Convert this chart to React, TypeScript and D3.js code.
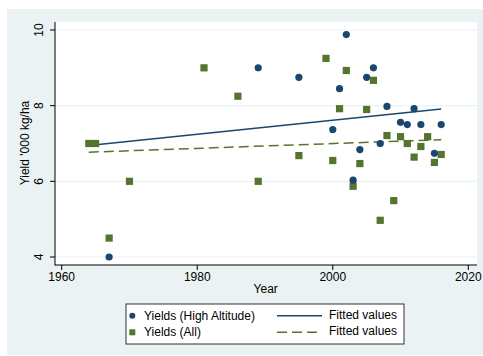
import { useMemo } from 'react'
import * as d3 from 'd3'

// High altitude yields ('000 kg/ha) by year
const highYears = [1967, 1989, 1995, 2000, 2001, 2002, 2003, 2004, 2005, 2006, 2007, 2008, 2010, 2011, 2012, 2013, 2015, 2016]
const highValues = [4.0, 9.0, 8.75, 7.37, 8.45, 9.88, 6.03, 6.84, 8.75, 9.0, 7.0, 7.98, 7.56, 7.5, 7.92, 7.5, 6.74, 7.5]

// All yields
const allYears = [1964, 1965, 1967, 1970, 1981, 1986, 1989, 1995, 1999, 2000, 2001, 2002, 2003, 2004, 2005, 2006, 2007, 2008, 2009, 2010, 2011, 2012, 2013, 2014, 2015, 2016]
const allValues = [7.0, 7.0, 4.5, 6.0, 9.0, 8.25, 6.0, 6.68, 9.25, 6.55, 7.92, 8.93, 5.87, 6.47, 7.9, 8.67, 4.97, 7.21, 5.49, 7.18, 7.0, 6.64, 6.92, 7.18, 6.5, 6.71]

// Fitted line endpoints
const fitYears = [1964, 2016]
const fitHigh = [6.95, 7.91]
const fitAll = [6.77, 7.1]

const xTicks = [1960, 1980, 2000, 2020]
const yTicks = [4, 6, 8, 10]

const NAVY = '#1a476f'
const GREEN = '#55752f'
const BG = '#eaf2f3'
const FONT = 'Liberation Sans, Arial, sans-serif'

export default function App() {
  const width = 483
  const height = 356
  const plot = { left: 55, right: 477, top: 22, bottom: 265 }

  const x = useMemo(() => d3.scaleLinear().domain([1960, 2020]).range([61.7, 468.3]), [])
  const y = useMemo(() => d3.scaleLinear().domain([4, 10]).range([257, 30]), [])

  const line = d3.line<number>()
    .x((_, i) => x(fitYears[i]))
    .y(d => y(d))

  return (
    <svg width={width} height={height} style={{ position: 'absolute', left: 0, top: 0, fontFamily: FONT }}>
      <rect x={0} y={0} width={width} height={height} fill="#fff" />
      <rect x={7} y={9} width={width - 7} height={346} fill={BG} />
      <rect x={plot.left} y={plot.top} width={plot.right - plot.left} height={plot.bottom - plot.top} fill="#fff" />

      {/* grid */}
      {yTicks.map(t => (
        <line key={t} x1={plot.left} x2={plot.right} y1={y(t)} y2={y(t)} stroke={BG} strokeWidth={1.2} />
      ))}

      {/* fitted lines */}
      <path d={line(fitHigh) || ''} fill="none" stroke={NAVY} strokeWidth={1.5} />
      <path d={line(fitAll) || ''} fill="none" stroke={GREEN} strokeWidth={1.5} strokeDasharray="10,5" />

      {/* points */}
      {allYears.map((yr, i) => (
        <rect key={'a' + i} x={x(yr) - 3.6} y={y(allValues[i]) - 3.6} width={7.2} height={7.2} fill={GREEN} />
      ))}
      {highYears.map((yr, i) => (
        <circle key={'h' + i} cx={x(yr)} cy={y(highValues[i])} r={3.6} fill={NAVY} />
      ))}

      {/* axes */}
      <line x1={plot.left} x2={plot.left} y1={plot.top} y2={plot.bottom + 0.5} stroke="#000" strokeWidth={1} />
      <line x1={plot.left} x2={plot.right} y1={plot.bottom} y2={plot.bottom} stroke="#000" strokeWidth={1} />
      {xTicks.map(t => (
        <g key={t}>
          <line x1={x(t)} x2={x(t)} y1={plot.bottom} y2={plot.bottom + 5} stroke="#000" />
          <text x={x(t)} y={plot.bottom + 16} fontSize={12} textAnchor="middle" fill="#000">{t}</text>
        </g>
      ))}
      {yTicks.map(t => (
        <g key={t}>
          <line x1={plot.left - 5} x2={plot.left} y1={y(t)} y2={y(t)} stroke="#000" />
          <text transform={`translate(${plot.left - 12},${y(t)}) rotate(-90)`} fontSize={12} textAnchor="middle" fill="#000">{t}</text>
        </g>
      ))}
      <text x={265.7} y={293} fontSize={12} textAnchor="middle" fill="#000">Year</text>
      <text transform={`translate(29,143) rotate(-90)`} fontSize={12} textAnchor="middle" fill="#000">Yield '000 kg/ha</text>

      {/* legend */}
      <rect x={126} y={304} width={278} height={40} fill="#fff" stroke="#333" strokeWidth={1} />
      <circle cx={132.3} cy={315.7} r={3} fill={NAVY} />
      <text x={144} y={320} fontSize={12} fill="#000">Yields (High Altitude)</text>
      <rect x={129.3} y={329.3} width={6} height={6} fill={GREEN} />
      <text x={144} y={336} fontSize={12} fill="#000">Yields (All)</text>
      <line x1={277} x2={322} y1={315.7} y2={315.7} stroke={NAVY} strokeWidth={1.5} />
      <line x1={277} x2={322} y1={332.3} y2={332.3} stroke={GREEN} strokeWidth={1.5} strokeDasharray="10,5" />
      <text x={329} y={318.5} fontSize={12} fill="#000">Fitted values</text>
      <text x={329} y={335} fontSize={12} fill="#000">Fitted values</text>
    </svg>
  )
}
